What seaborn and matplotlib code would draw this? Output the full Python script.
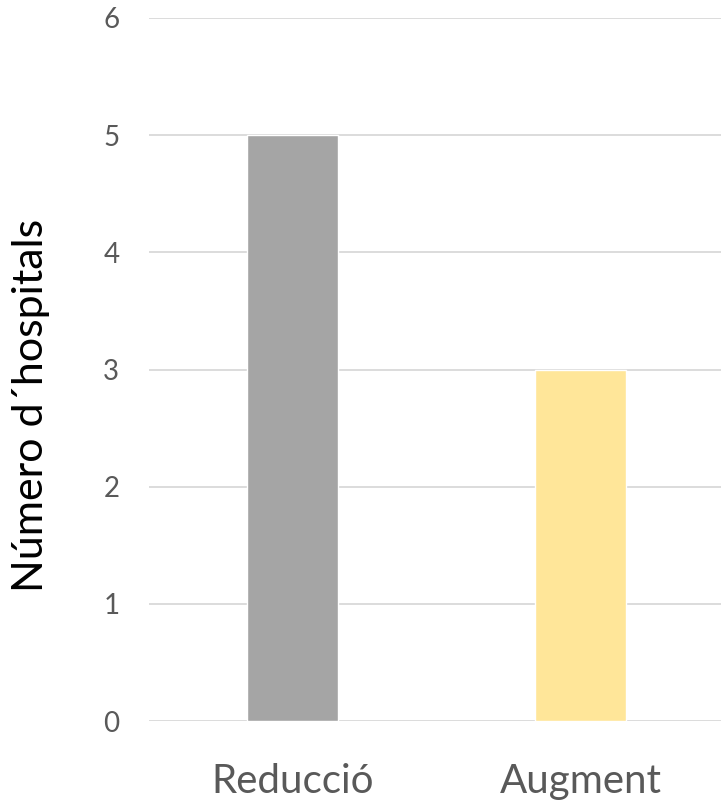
import matplotlib
matplotlib.use("Agg")
import matplotlib.pyplot as plt
import seaborn as sns
import pandas as pd

categories = ["Reducció", "Augment"]
values = [5, 3]
bar_colors = ["#A5A5A5", "#FFE699"]
y_ticks = [0, 1, 2, 3, 4, 5, 6]
y_label = "Número d´hospitals"

sns.set_theme(style="white")
plt.rcParams["font.family"] = ["Lato", "DejaVu Sans"]

df = pd.DataFrame({"categoria": categories, "valor": values})

fig = plt.figure(figsize=(7.21, 8.02), dpi=100)
ax = fig.add_axes([148.5 / 721, 81 / 802, 1 - 148.5 / 721, (721 - 18) / 802])

sns.barplot(data=df, x="categoria", y="valor", hue="categoria",
            palette=bar_colors, width=0.316, legend=False, ax=ax,
            saturation=1, zorder=3)

ax.set_ylim(0, 6)
ax.set_xlim(-0.5, 1.5 - 3.5 / 288)
ax.set_yticks(y_ticks)
ax.yaxis.grid(True, color="#D9D9D9", linewidth=1.3, zorder=0)
ax.set_axisbelow(True)
for s in ax.spines.values():
    s.set_visible(False)

ax.tick_params(axis="y", length=0, pad=21, labelsize=20, labelcolor="#595959")
ax.tick_params(axis="x", length=0, pad=30, labelsize=29, labelcolor="#595959")
ax.set_xlabel("")
ax.set_ylabel(y_label, fontsize=31, color="black")
ax.yaxis.set_label_coords((50 - 148.5) / 572.5, (721 - 405) / 703)

fig.savefig("out.png", dpi=100)
